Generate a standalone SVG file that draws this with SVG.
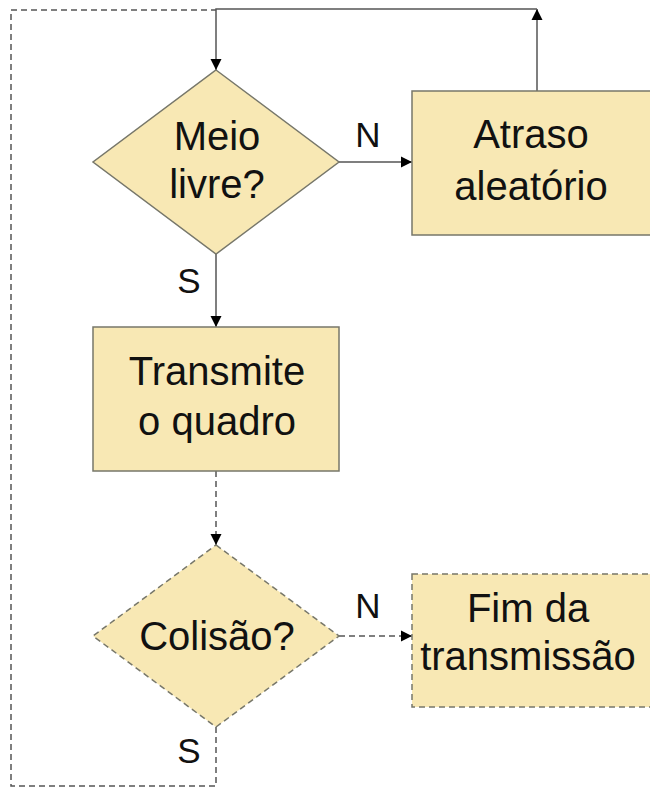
<svg xmlns="http://www.w3.org/2000/svg" width="650" height="788" viewBox="0 0 650 788">
<style>
.node{fill:#F8E8B4;stroke:#77776A;stroke-width:1.5}
.dash{stroke-dasharray:6,4}
.t{font-family:"Liberation Sans",Arial,sans-serif;font-size:40px;fill:#111;text-anchor:middle}
.lbl{font-family:"Liberation Sans",Arial,sans-serif;font-size:35px;fill:#111;text-anchor:middle}
.c{fill:none;stroke:#555;stroke-width:1.5}
</style>
<defs>
<marker id="ah" markerUnits="userSpaceOnUse" markerWidth="12" markerHeight="12" refX="11" refY="6" orient="auto">
<path d="M0,0.5 L11,6 L0,11.5 z" fill="#000"/>
</marker>
</defs>
<rect width="650" height="788" fill="#fff"/>
<g id="connectors">
<path class="c" d="M537,91 L537,9" marker-end="url(#ah)"/>
<path class="c" d="M537,9 L216,9 L216,70" marker-end="url(#ah)"/>
<path class="c" d="M339,162 L412,162" marker-end="url(#ah)"/>
<path class="c" d="M216,254 L216,327" marker-end="url(#ah)"/>
<path class="c dash" d="M216,471 L216,545" marker-end="url(#ah)"/>
<path class="c dash" d="M339,636 L412,636" marker-end="url(#ah)"/>
<path class="c dash" d="M216,727 L216,786 L11,786 L11,10 L216,10"/>
<text class="lbl" x="368" y="147">N</text>
<text class="lbl" x="189" y="293">S</text>
<text class="lbl" x="368" y="618">N</text>
<text class="lbl" x="189" y="763">S</text>
</g>
<g id="meio-livre">
<polygon class="node" points="216,70 339,162 216,254 93,162"/>
<text class="t" x="217" y="150">Meio</text>
<text class="t" x="217" y="198">livre?</text>
</g>
<g id="atraso">
<rect class="node" x="412" y="91" width="250" height="144"/>
<text class="t" x="531" y="148">Atraso</text>
<text class="t" x="531" y="200">aleatório</text>
</g>
<g id="transmite">
<rect class="node" x="93" y="327" width="246" height="144"/>
<text class="t" x="217" y="385">Transmite</text>
<text class="t" x="217" y="435">o quadro</text>
</g>
<g id="colisao">
<polygon class="node dash" points="216,545 339,636 216,727 93,636"/>
<text class="t" x="217" y="650">Colisão?</text>
</g>
<g id="fim">
<rect class="node dash" x="412" y="574" width="250" height="133"/>
<text class="t" x="528" y="622">Fim da</text>
<text class="t" x="528" y="670">transmissão</text>
</g>
</svg>
